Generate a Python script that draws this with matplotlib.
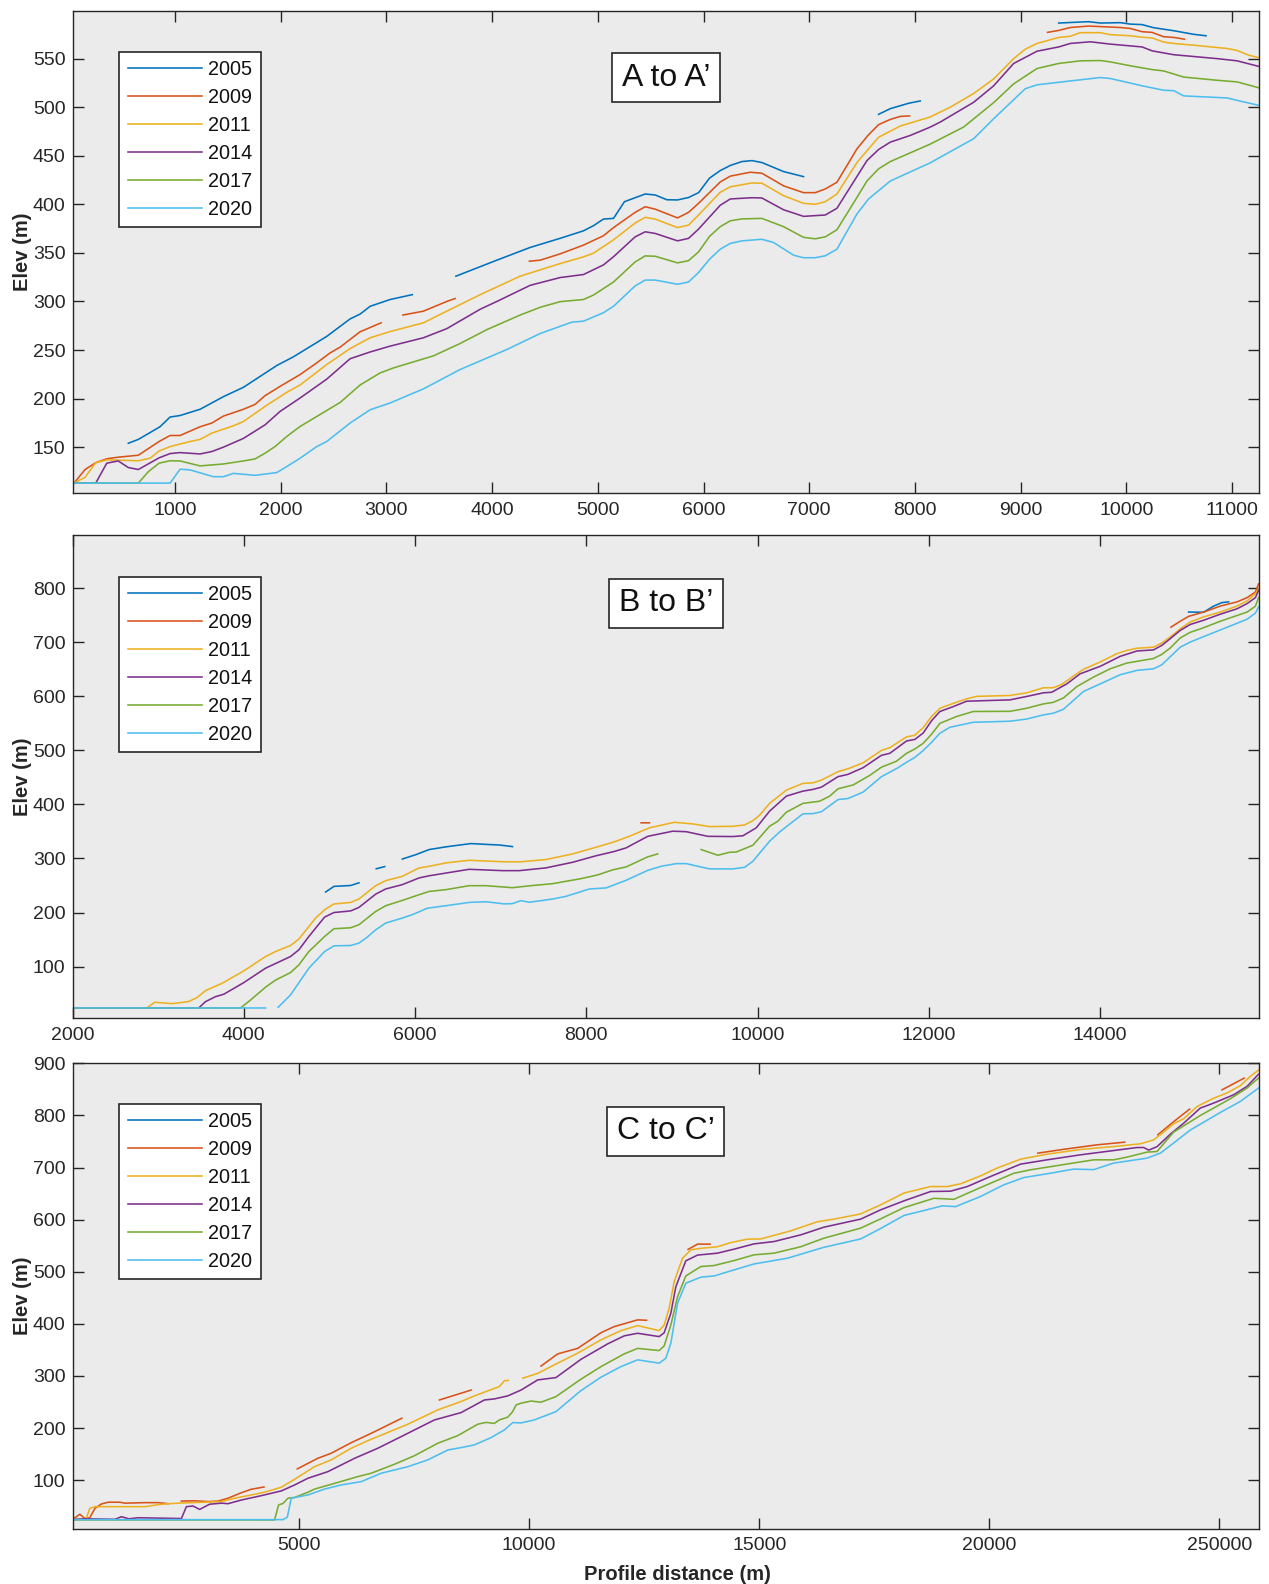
import numpy as np
import matplotlib
matplotlib.use("Agg")
import matplotlib.pyplot as plt

plt.rcParams['font.family'] = ['Liberation Sans', 'DejaVu Sans']

YEARS = ['2005', '2009', '2011', '2014', '2017', '2020']
COLORS = ['#0072BD', '#D95319', '#EDB120', '#7E2F8E', '#77AC30', '#4DBEEE']

# ---------------- Panel A (A to A') ----------------
A_2005 = [(558,154),(653,158),(858,171),(953,181),(1048,182.6),(1237,189),(1458,202),(1647,211.6),(1962,234),(2120,243),
          (2435,264),(2656,282),(2751,287),(2846,295),(3035,302),(3245,307), None,
          (3657,326),(4045,342.5),(4360,355.6),(4644,365),(4864,372.7),(4959,378),(5053,384.8),(5148,385.5),(5252,402.7),
          (5448,410.6),(5543,409.6),(5653,404.7),(5754,404.5),(5858,407),(5953,412),(6057,427),(6158,434.7),(6253,440),
          (6363,444),(6458,445),(6552,443),(6757,433.7),(6946,428.5), None,
          (7656,492.6),(7767,498.5),(7940,504),(8050,506.4), None,
          (9360,586.6),(9643,588),(9754,586.6),(9943,587),(10038,585.5),(10149,585),(10258,581.8),(10448,578.7),
          (10637,575),(10754,573.5)]
A_2009 = [(44,112.8),(149,127),(250,134),(354,138),(463,139.7),(653,141.7),(849,155.8),(953,162),(1048,162),(1237,171),
          (1348,174.8),(1458,182),(1647,189),(1757,194),(1852,203),(1994,212.6),(2183,224.7),(2341,236.8),(2467,247),
          (2562,253),(2751,268.8),(2950,278), None,
          (3155,286),(3350,290),(3571,300),(3650,303), None,
          (4353,341.4),(4455,342.5),(4644,349),(4864,358),(5053,367.6),(5148,376),(5353,391.7),(5448,397.5),(5543,395),
          (5754,386),(5858,391.7),(5953,401),(6158,423),(6253,429),(6442,433),(6552,432),(6757,419),(6946,412),(7057,412),
          (7152,415.8),(7262,422.7),(7451,457),(7561,471.6),(7656,482),(7767,487.4),(7861,490.5),(7949,491), None,
          (9255,577),(9360,579),(9470,582),(9643,583.5),(9943,582),(10038,581),(10149,577.7),(10243,577),(10353,572.5),
          (10448,571.8),(10549,570)]
A_2011 = [(44,113),(149,119),(250,134),(354,136.9),(653,136),(764,138.6),(849,146),(953,150.6),(1142,155.8),(1237,158),
          (1348,164.5),(1552,172),(1647,176.4),(1852,192),(2057,206.4),(2183,214),(2435,235),(2656,251.5),(2846,262.6),
          (3035,269),(3350,278),(3571,290),(3887,307),(4265,326),(4644,339),(4864,345.9),(4959,349.7),(5148,363.4),
          (5353,380.7),(5448,386.6),(5543,384.8),(5754,376),(5858,378.6),(5953,389),(6158,412.4),(6253,418),(6458,422),
          (6552,421.7),(6757,408.9),(6946,401),(7057,400),(7152,402.7),(7262,410.6),(7451,443),(7656,469),(7861,480.6),
          (8145,489.9),(8334,500),(8555,514),(8744,529),(8934,550),(9044,559.7),(9155,565.6),(9360,571.8),(9470,573),
          (9565,576.7),(9754,576.7),(9849,574.6),(10038,573.5),(10149,572),(10243,571.3),(10353,567),(10448,565.6),
          (10637,563.8),(10953,560.4),(11048,558.4),(11157,553.5),(11252,551)]
A_2014 = [(44,113),(250,113),(354,133.5),(463,135.8),(558,129),(653,127),(849,139),(953,143.4),(1048,144.4),(1237,143),
          (1348,145.5),(1458,150),(1647,159),(1852,173),(1994,186.8),(2183,200.6),(2435,220),(2656,241),(2846,248),
          (3035,254),(3350,262.6),(3571,272),(3887,292),(4045,300),(4360,316.6),(4644,324.6),(4864,327.7),(5053,337.6),
          (5148,346),(5353,366.5),(5448,371.7),(5543,370),(5754,362.4),(5858,364.9),(5953,374.5),(6158,399),(6253,405.5),
          (6458,406.8),(6552,406.5),(6757,394.4),(6946,387.6),(7152,389),(7262,395.9),(7546,445),(7656,456.4),(7767,464),
          (7956,470.9),(8145,479.5),(8240,484.7),(8555,505),(8744,521.9),(8934,545),(9155,557.6),(9360,562),(9470,565.6),
          (9660,567.3),(9849,564.9),(10149,562),(10243,558),(10448,554),(10857,550),(11048,547.7),(11252,542)]
A_2017 = [(44,113),(653,113),(748,124.8),(849,133.5),(953,136),(1048,135.8),(1237,130.7),(1458,132.7),(1647,135.8),
          (1757,137.9),(1852,143.8),(1946,150.6),(2057,161),(2183,171.3),(2341,181.6),(2562,196),(2751,214),(2940,226.4),
          (3067,231.6),(3445,244),(3697,256.7),(3950,271),(4265,286),(4455,294),(4644,299.8),(4864,302),(4959,306.6),
          (5148,320),(5353,340.7),(5448,346.9),(5543,346.5),(5754,339.7),(5858,342),(5953,351),(6057,367),(6158,377),
          (6253,383),(6363,385),(6552,385.5),(6757,377),(6946,366),(7057,364.5),(7152,366.5),(7262,373.8),(7451,407),
          (7546,424),(7656,436.5),(7767,444),(8145,462),(8460,479.5),(8744,504.6),(8934,524),(9155,539.8),(9360,545),
          (9565,547.7),(9754,548),(9849,546.6),(10038,542.6),(10243,538.7),(10353,537.3),(10543,531),(10857,527.7),
          (11048,526),(11252,520)]
A_2020 = [(44,113),(953,113),(1048,127.3),(1142,126.6),(1363,119.6),(1458,119.6),(1552,123),(1757,121),(1962,123.8),
          (2057,130),(2183,138.6),(2341,150.6),(2435,155.8),(2656,174.8),(2846,188.5),(3035,195.5),(3350,210),(3697,229.9),
          (4139,250.5),(4455,267),(4754,278.7),(4864,279.7),(5053,288.4),(5148,295),(5353,316),(5448,322),(5543,322),
          (5754,317.7),(5858,320),(5953,329.8),(6057,343.5),(6158,353.8),(6253,359.7),(6363,362.4),(6552,364),(6662,360.7),
          (6852,347.6),(6946,345),(7057,345),(7152,347),(7262,353.8),(7451,390),(7561,405.5),(7767,424),(8145,442.7),
          (8240,448.5),(8555,467.5),(8744,488),(9044,519),(9155,523),(9470,527),(9754,530.5),(9849,529.5),(10149,522),
          (10353,517.4),(10448,517),(10543,511.6),(10953,509.5),(11048,507),(11252,501.9)]

# ---------------- Panel B (B to B') ----------------
B_2005 = [(4956,238),(5053,248.4),(5248,250),(5345,255), None,
          (5547,281),(5646,285), None,
          (5851,299),(6008,307),(6164,316.5),(6359,321.5),(6651,327.6),(6866,325.8),(6982,325),(7138,322), None,
          (15033,756),(15208,755.6),(15325,767),(15423,773.5),(15501,774.8)]
B_2009 = [(8640,366),(8737,366), None,
          (14827,728),(14935,739),(15033,748),(15208,756),(15403,767),(15598,774.8),(15716,782.7),(15813,793),(15850,808)]
B_2011 = [(2000,23.4),(2869,23.4),(2959,34),(3161,31.4),(3349,35),(3454,42.5),(3552,55.5),(3746,69),(4000,92),(4254,118.6),
          (4371,127.8),(4546,139),(4643,150.8),(4839,189.8),(4956,206.5),(5053,215.8),(5248,218.7),(5345,225),(5540,249.7),
          (5657,259),(5851,267),(6047,282.5),(6164,285.5),(6359,291.8),(6632,296.7),(7021,294),(7216,293.7),(7528,298),
          (7840,308.5),(8113,320.8),(8327,330.8),(8503,341),(8737,356.8),(9029,367),(9243,364),(9439,359),(9711,359.6),
          (9848,362),(9945,370),(10023,380),(10140,402),(10336,426.5),(10530,439),(10647,440),(10745,445),(10939,460.7),
          (11056,466),(11232,477),(11447,500),(11544,505),(11739,525),(11836,528),(11933,542),(12032,562.7),(12129,578),
          (12284,587),(12441,595.4),(12558,600),(12947,601.6),(13142,606.5),(13337,615.8),(13454,616),(13552,622),
          (13688,637.5),(13805,650),(14000,663.5),(14195,679),(14312,685),(14429,689),(14623,691),(14721,698.7),
          (14818,709.8),(14935,725),(15052,737.6),(15208,747),(15403,756),(15598,767),(15716,776.6),(15813,790),(15850,799)]
B_2014 = [(2000,23.4),(3474,23.4),(3552,35),(3669,44.3),(3766,48.8),(4000,70.3),(4254,97),(4546,118.6),(4643,131),
          (4760,155.7),(4944,191.6),(5053,200),(5248,203),(5345,209.5),(5540,234),(5657,243.6),(5851,251.6),(6047,264),
          (6164,268),(6359,273),(6632,280),(7021,277.5),(7216,277.5),(7528,282.6),(7840,293),(8113,305),(8327,313),
          (8464,319.6),(8717,341),(9009,350.5),(9166,349.6),(9418,341),(9711,340.6),(9828,342),(9985,356.8),(10140,387.6),
          (10336,415.4),(10530,424.7),(10647,427.8),(10745,432),(10939,451.4),(11056,455.7),(11232,468),(11447,491),
          (11544,494.6),(11739,517.4),(11836,520.3),(11933,532),(12032,555),(12129,572),(12284,581),(12441,591),
          (12558,591.6),(12947,593.5),(13142,599.8),(13337,606.5),(13435,607.6),(13610,623),(13766,641.7),(14000,655.5),
          (14234,674),(14429,683.9),(14623,686),(14721,694.4),(14818,706.7),(14935,722),(15052,733),(15208,740.8),
          (15403,752),(15598,762),(15716,771.6),(15813,782.7),(15850,796)]
B_2017 = [(2000,23.4),(3961,23.4),(4078,38),(4254,61.8),(4371,75),(4546,88.9),(4643,103),(4760,127.8),(4944,155.7),
          (5053,170),(5248,171.8),(5345,177.4),(5540,202),(5657,212.6),(5851,222.4),(6047,233),(6164,239),(6359,242.3),
          (6632,249.7),(6827,249.7),(7138,246),(7372,250),(7606,253.4),(7938,262.7),(8132,269.6),(8308,279),(8464,284.4),
          (8717,303),(8834,308.5), None,
          (9341,316.5),(9536,306),(9673,311.5),(9751,312),(9945,324.5),(10140,359.7),(10237,369),(10336,385.7),
          (10530,402),(10725,406),(10842,415.4),(10939,429),(11115,436),(11310,453.8),(11447,469),(11622,480),
          (11739,494.6),(11836,502.6),(11933,513),(12032,530),(12129,550),(12323,562.7),(12518,572),(12947,572.3),
          (13142,578),(13337,586),(13454,589),(13571,597),(13727,618),(13922,635.6),(14117,651),(14312,661.6),
          (14623,670),(14721,677.7),(14818,689.4),(14935,708),(15052,718.5),(15208,727),(15403,739),(15716,756),
          (15813,766.8),(15850,782.7)]
B_2020 = [(2000,23.4),(4254,23.4), None,
          (4401,24.7),(4546,47.5),(4760,97),(4944,127.8),(5053,138.4),(5248,139),(5345,143.4),(5442,154.5),(5540,168),
          (5657,180.5),(5851,189.8),(5968,196),(6144,208),(6359,212.6),(6632,218.7),(6827,220),(7041,216),(7138,216.5),
          (7236,222),(7333,219),(7606,225),(7762,229.9),(8035,243.6),(8230,245.5),(8464,259.6),(8717,278),(8873,285.5),
          (9049,290.5),(9166,290.5),(9439,280.7),(9711,280.7),(9848,283.7),(9945,294.8),(10140,332),(10257,349),
          (10394,366),(10530,382.7),(10647,383),(10745,386.5),(10939,409),(11056,411),(11232,422.8),(11447,451.4),
          (11641,468),(11739,478),(11836,487),(11933,499.6),(12032,515),(12129,531.7),(12246,542.8),(12518,552),
          (12947,554),(13142,558),(13337,565.7),(13454,568.8),(13571,576),(13805,609),(14000,623),(14234,640),
          (14429,648),(14623,651),(14721,658.4),(14935,691),(15052,700.5),(15248,713),(15716,742.7),(15813,754),
          (15850,765.5)]

# ---------------- Panel C (C to C') ----------------
C_2005 = []
C_2009 = [(78,24.5),(237,34.7),(345,26.8),(454,28),(565,46),(708,54.5),(853,57.8),(1107,57.8),(1216,56),(1650,57),
          (1939,57),(2155,55), None,
          (2444,60),(2733,60.5),(3024,59),(3241,60),(3458,65.5),(3746,76),(3963,82.7),(4239,87), None,
          (4962,121.7),(5411,142.2),(5700,151.8),(6134,172),(6568,190),(7235,219), None,
          (8051,254),(8739,273), None,
          (10258,319),(10621,342.4),(11055,353),(11561,383),(11849,394.8),(12357,407.7),(12552,407), None,
          (13456,543),(13660,553),(13933,553), None,
          (21053,727.6),(21620,735),(22343,743.6),(22943,748.7), None,
          (23661,762.8),(24005,788),(24352,812), None,
          (25055,849),(25539,871.6)]
C_2011 = [(78,24.5),(345,26),(382,28),(454,46),(565,49.3),(1650,49.3),(2010,54),(2372,56),(3312,59),(3601,65.5),
          (3891,70.4),(4252,77),(4615,86.6),(4906,101.9),(5337,126),(5700,139),(6134,161.4),(6568,178.7),(6857,189),
          (7365,207.5),(8016,235),(8522,251),(8811,261.8),(9353,279.7),(9464,291),(9549,291.5), None,
          (9861,295.8),(10187,305),(10584,323),(11055,343.8),(11561,369.3),(11995,387),(12357,396.7),(12826,387),
          (12935,398),(13043,430),(13152,481),(13334,526),(13514,542),(13731,545),(14094,548),(14383,556),(14745,562.6),
          (15034,563),(15685,578.5),(16264,596),(16625,601),(17204,611),(17638,628.4),(18144,651),(18724,663.5),
          (19086,663.5),(19375,668.7),(19809,684),(20171,699),(20677,716),(21257,725.7),(21980,734.6),(22702,740.3),
          (23282,745.5),(23571,753),(23788,768),(24005,784),(24222,793.5),(24512,817),(24873,833),(25163,843),
          (25452,857),(25669,874.7),(25850,887)]
C_2014 = [(78,24.5),(345,26),(1000,25),(1142,30),(1300,26),(1504,28),(2444,26.5),(2553,49.3),(2698,50.5),(2841,44),
          (3058,54),(3312,56),(3458,55),(3746,62),(4181,70.4),(4615,79.5),(4906,91),(5194,103.8),(5628,116.5),(6206,142),
          (6713,161.4),(7220,183.7),(7943,215.7),(8522,229.8),(9028,254),(9245,256),(9535,261.8),(9824,273),(10187,292.5),
          (10584,297),(11127,332),(11706,361.6),(12066,377),(12357,382),(12826,375.6),(12935,383),(13080,420.5),
          (13189,471.6),(13405,521),(13660,532),(14094,535.7),(14454,543.4),(14888,553.5),(15322,558),(15902,570.8),
          (16408,585.6),(17204,601),(17638,618.8),(18144,636),(18724,654),(19158,654.6),(19520,663.5),(20026,682.8),
          (20677,706.5),(21257,714.8),(21980,724.4),(22702,732.6),(23210,738.4),(23354,738.4),(23463,733.4),(23644,740),
          (23933,764),(24222,785),(24584,814),(24873,823.6),(25307,839.5),(25597,855.5),(25850,879)]
C_2017 = [(78,24),(4469,23.8),(4556,52.6),(4651,55.4),(4760,65.5),(4906,67),(5194,77),(5337,83),(5772,94),(6280,107),
          (6568,113.4),(7074,130.7),(7508,147),(8016,171),(8450,185.6),(8884,207.5),(9064,211),(9245,209),(9353,215.7),
          (9535,221),(9644,231.7),(9716,244.5),(9824,247.8),(10041,252),(10258,249.7),(10584,260.5),(11127,293.9),
          (11561,318),(12066,342.4),(12357,353),(12826,348.8),(12935,357.8),(13080,398),(13225,452),(13405,492),
          (13731,510),(14020,512),(14454,521.5),(14888,532.5),(15322,535.7),(15902,548),(16408,564.5),(17204,583.7),
          (17638,601.5),(18144,623),(18795,641),(19229,639),(19809,661.6),(20532,689),(20894,695.6),(21400,702.7),
          (22268,714.8),(22702,714.8),(22993,720),(23427,729.6),(23644,730.7),(24005,768),(24584,799.8),(25235,831.9),
          (25597,852.4),(25850,871.6)]
C_2020 = [(78,24.4),(4651,24.4),(4745,29),(4831,65.5),(5194,71.8),(5555,83),(5917,91),(6352,97.3),(6785,113.4),
          (7365,126),(7799,139),(8233,158),(8522,162.6),(8811,167.8),(9173,181.8),(9462,196.5),(9644,210.6),(9824,210),
          (10113,215.7),(10584,231.7),(11127,272),(11561,297.7),(11995,318),(12357,331),(12826,324.6),(12971,334),
          (13080,363),(13225,439.7),(13405,478),(13731,489.6),(14020,492),(14454,503.6),(14888,515),(15613,526),
          (16408,547),(17204,563),(17638,583),(18144,608),(18724,620.7),(18978,626.5),(19266,625),(19809,644.4),
          (20314,666.8),(20749,680.8),(21257,688),(21834,697),(22268,696),(22702,708.5),(23427,718),(23716,727.6),
          (24005,747),(24367,772),(25019,805.6),(25452,826.7),(25850,852.4)]

A_XTICKS = [1000, 2000, 3000, 4000, 5000, 6000, 7000, 8000, 9000, 10000, 11000]
A_YTICKS = [150, 200, 250, 300, 350, 400, 450, 500, 550]
B_XTICKS = [2000, 4000, 6000, 8000, 10000, 12000, 14000]
B_YTICKS = [100, 200, 300, 400, 500, 600, 700, 800]
C_XTICKS = [5000, 10000, 15000, 20000, 25000]
C_XTICKLABELS = ['5000', '10000', '15000', '20000', '250000']
C_YTICKS = [100, 200, 300, 400, 500, 600, 700, 800, 900]

PANELS = [
    dict(series=[A_2005, A_2009, A_2011, A_2014, A_2017, A_2020], title="A to A\u2019",
         xlim=(30, 11255), ylim=(102.5, 599), xticks=A_XTICKS, xlabels=None, yticks=A_YTICKS,
         rect=[72.5, 11, 1259, 493.3], title_y=0.862, leg_y=0.916),
    dict(series=[B_2005, B_2009, B_2011, B_2014, B_2017, B_2020], title="B to B\u2019",
         xlim=(2000, 15855), ylim=(4.3, 898), xticks=B_XTICKS, xlabels=None, yticks=B_YTICKS,
         rect=[72.5, 535.3, 1259, 1018.3], title_y=0.859, leg_y=0.914),
    dict(series=[C_2005, C_2009, C_2011, C_2014, C_2017, C_2020], title="C to C\u2019",
         xlim=(78, 25860), ylim=(7, 900), xticks=C_XTICKS, xlabels=C_XTICKLABELS, yticks=C_YTICKS,
         rect=[72.5, 1063.3, 1259, 1528.7], title_y=0.854, leg_y=0.913),
]

W, H = 1269, 1584
fig = plt.figure(figsize=(W / 100, H / 100), dpi=100)
fig.patch.set_facecolor('white')

DARK = '#262626'
BG = '#ebebeb'


def to_xy(points):
    xs, ys = [], []
    for p in points:
        if p is None:
            xs.append(np.nan)
            ys.append(np.nan)
        else:
            xs.append(p[0])
            ys.append(p[1])
    return np.array(xs, dtype=float), np.array(ys, dtype=float)


axes = []
for i, P in enumerate(PANELS):
    l, t, r, b = P['rect']
    ax = fig.add_axes([l / W, 1 - b / H, (r - l) / W, (b - t) / H])
    ax.set_facecolor(BG)
    for year, color, pts in zip(YEARS, COLORS, P['series']):
        x, y = to_xy(pts)
        ax.plot(x, y, color=color, lw=1.15, label=year, solid_joinstyle='round')
    ax.set_xlim(*P['xlim'])
    ax.set_ylim(*P['ylim'])
    ax.set_xticks(P['xticks'])
    if P['xlabels'] is not None:
        ax.set_xticklabels(P['xlabels'])
    ax.set_yticks(P['yticks'])
    ax.tick_params(direction='in', length=8, width=1.0, colors=DARK, labelsize=14,
                   top=True, right=True, pad=6)
    ax.tick_params(axis='y', pad=5)
    for sp in ax.spines.values():
        sp.set_color(DARK)
        sp.set_linewidth(1.0)
    ax.set_ylabel('Elev (m)', fontsize=14.5, fontweight='bold', color=DARK)
    ax.yaxis.set_label_coords(-0.034, 0.5)
    leg = ax.legend(loc='upper left', bbox_to_anchor=(0.0395, P['leg_y']), bbox_transform=ax.transAxes,
                    fontsize=14.3, frameon=True, fancybox=False, framealpha=1, edgecolor=DARK,
                    handlelength=3.75, handletextpad=0.3, labelspacing=0.45, borderpad=0.42,
                    borderaxespad=0)
    leg.get_frame().set_linewidth(1.2)
    for txt in leg.get_texts():
        txt.set_color('#111111')
    ax.text(0.5, P['title_y'], P['title'], transform=ax.transAxes, ha='center', va='center',
            fontsize=23, color='#111111',
            bbox=dict(boxstyle='square,pad=0.3', facecolor='white', edgecolor=DARK, linewidth=1.2))
    axes.append(ax)

axes[-1].set_xlabel('Profile distance (m)', fontsize=14.5, fontweight='bold', color=DARK)
axes[-1].xaxis.set_label_coords(0.51, -0.078)

fig.savefig('out.png', dpi=100, facecolor='white')
